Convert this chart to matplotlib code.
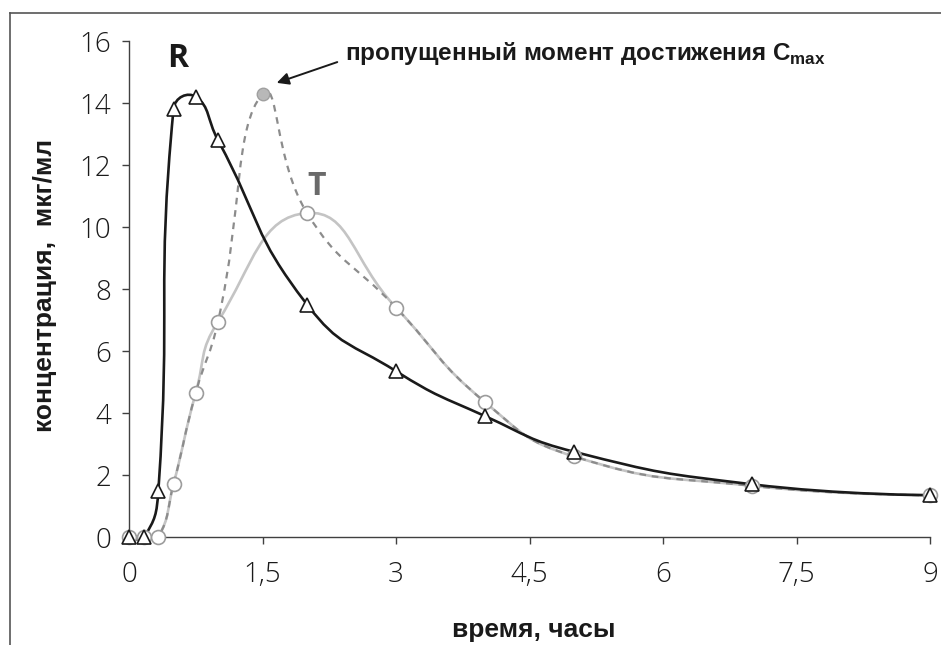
import numpy as np
import matplotlib
matplotlib.use("Agg")
import matplotlib.pyplot as plt
from matplotlib.path import Path
from matplotlib.patches import PathPatch
from matplotlib.lines import Line2D

# ── data ─────────────────────────────────────────────────────────────────────
time_h = [0, 0.17, 0.33, 0.5, 0.75, 1.0, 2.0, 3.0, 4.0, 5.0, 7.0, 9.0]
conc_R = [0, 0, 1.5, 13.8, 14.2, 12.8, 7.5, 5.35, 3.9, 2.75, 1.7, 1.35]
conc_T = [0, 0, 0, 1.7, 4.65, 6.95, 10.45, 7.4, 4.35, 2.6, 1.65, 1.35]

# T profile if the sample at 1.5 h had been taken
missed_t = 1.5
missed_c = 14.3

yticks = [0, 2, 4, 6, 8, 10, 12, 14, 16]
xticks = [0, 1.5, 3, 4.5, 6, 7.5, 9]
xtick_labels = ["0", "1,5", "3", "4,5", "6", "7,5", "9"]

BOLD = ["Liberation Sans", "DejaVu Sans"]
plt.rcParams["font.family"] = ["Open Sans", "DejaVu Sans"]
plt.rcParams["font.weight"] = "light"
plt.rcParams["mathtext.fontset"] = "custom"
plt.rcParams["mathtext.rm"] = "Liberation Sans"
plt.rcParams["mathtext.bf"] = "Liberation Sans:bold"


def smooth_path(ax, xs, ys, t=0.5):
    """Excel-like smoothed line: cubic Bezier through the points,
    control points scaled by neighbouring segment lengths (display space)."""
    pts = ax.transData.transform(np.column_stack([xs, ys]))
    n = len(pts)
    left, right = pts.copy(), pts.copy()
    for i in range(1, n - 1):
        d01 = np.hypot(*(pts[i] - pts[i - 1]))
        d12 = np.hypot(*(pts[i + 1] - pts[i]))
        tot = d01 + d12
        if tot == 0:
            continue
        tang = pts[i + 1] - pts[i - 1]
        left[i] = pts[i] - tang * t * d01 / tot
        right[i] = pts[i] + tang * t * d12 / tot
    verts = [pts[0]]
    codes = [Path.MOVETO]
    for i in range(n - 1):
        verts += [right[i], left[i + 1], pts[i + 1]]
        codes += [Path.CURVE4] * 3
    verts = ax.transData.inverted().transform(np.array(verts))
    return Path(verts, codes)


fig = plt.figure(figsize=(9.41, 6.45), dpi=100)
ax = fig.add_axes([129 / 941, 1 - 537 / 645, 801 / 941, 496 / 645])
ax.set_xlim(0, 9)
ax.set_ylim(0, 16)

# dashed curve: T with the missed 1.5 h point inserted
idx = int(np.searchsorted(time_h, missed_t))
dash_x = time_h[:idx] + [missed_t] + time_h[idx:]
dash_y = conc_T[:idx] + [missed_c] + conc_T[idx:]

ax.add_patch(PathPatch(smooth_path(ax, time_h, conc_T), fill=False,
                       edgecolor="#c4c4c4", lw=1.9, zorder=2, clip_on=False))
ax.add_patch(PathPatch(smooth_path(ax, dash_x, dash_y), fill=False,
                       edgecolor="#8c8c8c", lw=1.6, ls=(0, (3, 2.6)),
                       zorder=3, clip_on=False))
ax.add_patch(PathPatch(smooth_path(ax, time_h, conc_R), fill=False,
                       edgecolor="#1a1a1a", lw=1.9, zorder=4, clip_on=False))

ax.plot([missed_t], [missed_c], ls="none", marker="o", ms=9,
        mfc="#b8b8b8", mec="#a0a0a0", mew=1.0, zorder=5, clip_on=False)
ax.plot(time_h, conc_T, ls="none", marker="o", ms=10,
        mfc="white", mec="#9c9c9c", mew=1.2, zorder=5, clip_on=False)
ax.plot(time_h, conc_R, ls="none", marker="^", ms=10,
        mfc="white", mec="#1a1a1a", mew=1.2, zorder=6, clip_on=False)

# labels on the curves
ax.text(0.55, 15.45, "R", fontsize=23, fontweight="bold", color="#1a1a1a",
        ha="center", va="center", family=["Open Sans", "DejaVu Sans"])
ax.text(2.11, 11.3, "T", fontsize=23, fontweight="bold", color="#6a6a6a",
        ha="center", va="center", family=["Open Sans", "DejaVu Sans"])

ax.text(2.43, 15.6, r"пропущенный момент достижения $\mathbf{C}_{\mathbf{max}}$",
        fontsize=17.5, fontweight="bold", color="#1a1a1a", ha="left", va="center",
        family=BOLD)
ax.annotate("", xy=(1.66, 14.65), xytext=(2.34, 15.32),
            arrowprops=dict(arrowstyle="-|>", color="#1a1a1a", lw=1.4,
                            mutation_scale=18, shrinkA=0, shrinkB=0))

# axes styling
for side in ("top", "right"):
    ax.spines[side].set_visible(False)
for side in ("left", "bottom"):
    ax.spines[side].set_color("#404040")
    ax.spines[side].set_linewidth(1.0)

ax.set_yticks(yticks)
ax.set_xticks(xticks)
ax.set_xticklabels(xtick_labels)
ax.tick_params(axis="both", direction="out", length=5, width=1,
               color="#404040", labelsize=20, labelcolor="#1a1a1a")
ax.tick_params(axis="y", pad=8)
ax.tick_params(axis="x", pad=12)

ax.set_xlabel("время, часы", fontsize=19, fontweight="bold", family=BOLD,
              color="#1a1a1a", va="center")
ax.xaxis.set_label_coords(0.505, -0.1875)
ax.set_ylabel("концентрация,  мкг/мл", fontsize=19, fontweight="bold",
              family=BOLD, color="#1a1a1a", va="center")
ax.yaxis.set_label_coords(-0.105, 0.508)

# outer frame (left and top edges visible in the crop)
fx = 10 / 941
fy = 1 - 13 / 645
fig.add_artist(Line2D([fx, fx], [0, fy], color="#555555", lw=1.2))
fig.add_artist(Line2D([fx, 1], [fy, fy], color="#555555", lw=1.2))

fig.savefig("out.png", dpi=100)
